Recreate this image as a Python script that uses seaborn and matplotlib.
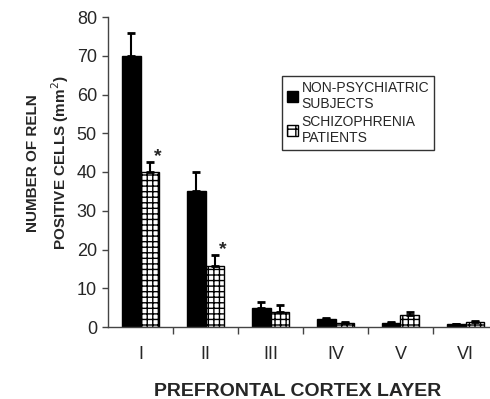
import numpy as np
import pandas as pd
import seaborn as sns
import matplotlib.pyplot as plt
from matplotlib.patches import Patch

# Data
layers = ['I', 'II', 'III', 'IV', 'V', 'VI']
groups = ['NON-PSYCHIATRIC\nSUBJECTS', 'SCHIZOPHRENIA\nPATIENTS']
control_mean = [70, 35, 4.9, 2.0, 1.1, 0.7]
control_sem = [6, 5, 1.6, 0.4, 0.3, 0.2]
schizo_mean = [40, 15.8, 3.9, 1.1, 3.1, 1.2]
schizo_sem = [2.5, 2.7, 1.8, 0.3, 0.9, 0.3]
significant = ['I', 'II']

data = pd.DataFrame({
    'layer': layers * 2,
    'group': [groups[0]] * len(layers) + [groups[1]] * len(layers),
    'mean': control_mean + schizo_mean,
    'sem': control_sem + schizo_sem,
})

sns.set_style('white')
plt.rcParams['font.family'] = ['Liberation Sans', 'DejaVu Sans']
plt.rcParams['hatch.linewidth'] = 1.0

fig = plt.figure(figsize=(4.9, 3.99), dpi=100)
ax = fig.add_axes([108 / 490, 72 / 399, 390 / 490, 310 / 399])

sns.barplot(data=data, x='layer', y='mean', hue='group', order=layers,
            hue_order=groups, palette=['black', 'white'], width=0.58,
            gap=0, errorbar=None, edgecolor='black', linewidth=1,
            legend=False, ax=ax)

# style the schizophrenia bars and add one-sided error bars
n = len(layers)
bars = ax.patches[:2 * n]
for i, p in enumerate(bars):
    if i >= n:
        p.set_hatch('+++')
        p.set_facecolor('white')
    row = data.iloc[i]
    xc = p.get_x() + p.get_width() / 2
    ax.errorbar(xc, row['mean'], yerr=[[0], [row['sem']]], fmt='none',
                ecolor='black', elinewidth=1.5, capsize=3, capthick=2)
    if i >= n and row['layer'] in significant:
        ax.annotate('*', (xc, row['mean'] + row['sem']), xytext=(6, -2),
                    textcoords='offset points', ha='center', va='bottom',
                    fontsize=14, fontweight='bold')

ax.set_ylim(0, 80)
ax.set_xlim(-0.5, n - 0.5)
ax.set_yticks(range(0, 81, 10))
ax.set_xticks(np.arange(0.5, n - 0.5, 1), minor=True)
ax.tick_params(axis='x', which='major', length=0, pad=14, labelsize=13)
ax.tick_params(axis='x', which='minor', length=5, width=1, direction='out',
               bottom=True, color='#444444')
ax.tick_params(axis='y', length=4, width=1, direction='out', left=True,
               labelsize=13, pad=4, color='#444444')

sns.despine(ax=ax)
for s in ['left', 'bottom']:
    ax.spines[s].set_color('#444444')
    ax.spines[s].set_linewidth(1)

ax.set_xlabel('PREFRONTAL CORTEX LAYER', fontsize=14, fontweight='bold')
ax.xaxis.set_label_coords(0.487, -0.18)
ax.set_ylabel('NUMBER OF RELN\nPOSITIVE CELLS (mm$^2$)', fontsize=11,
              fontweight='bold', linespacing=1.55)
ax.yaxis.set_label_coords(-0.095, 0.53)

handles = [Patch(facecolor='black', edgecolor='black'),
           Patch(facecolor='white', edgecolor='black', hatch='++')]
leg = fig.legend(handles, groups, loc='upper left',
                 bbox_to_anchor=(282 / 490, 1 - 76 / 399), fontsize=10,
                 frameon=True, fancybox=False, edgecolor='black',
                 borderpad=0.35, handlelength=0.8, handleheight=0.8,
                 handletextpad=0.25, labelspacing=0.25, borderaxespad=0)
leg.get_frame().set_linewidth(1)

fig.savefig('out.png', dpi=100)
